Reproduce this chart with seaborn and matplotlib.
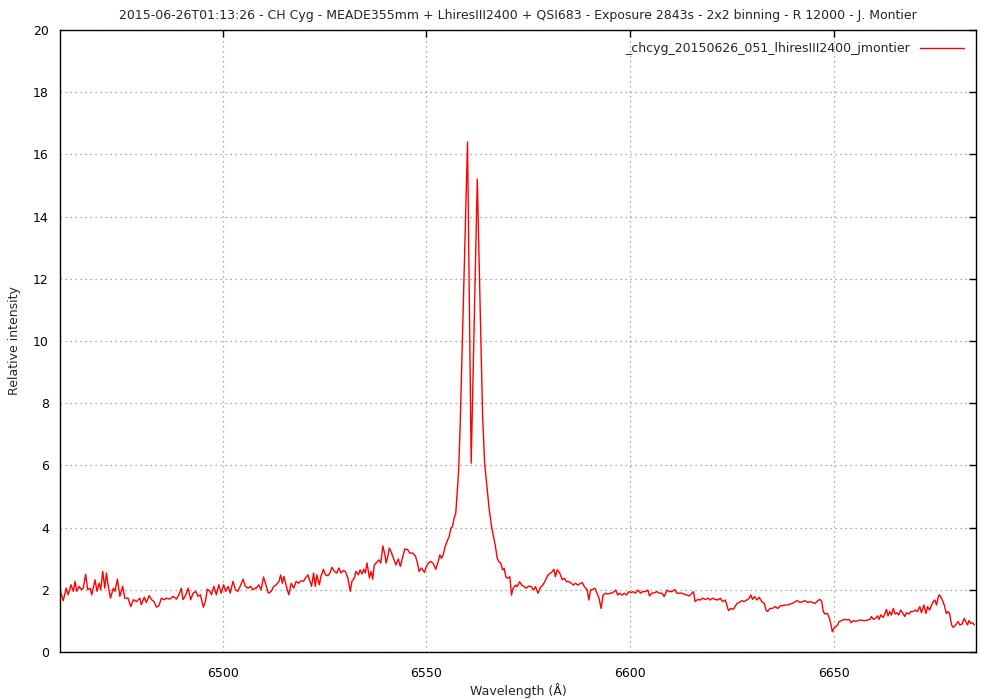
import numpy as np
import pandas as pd
import seaborn as sns
import matplotlib
matplotlib.use("Agg")
import matplotlib.pyplot as plt
from matplotlib.lines import Line2D

# Spectrum, split in chunks along the wavelength axis
wl_blue = [6460.0, 6460.8, 6461.5, 6462.0, 6462.7, 6463.3, 6463.7, 6464.1, 6464.7, 6465.3,
           6465.7, 6466.3, 6466.8, 6467.4, 6467.8, 6468.6, 6469.1, 6469.6, 6470.0, 6470.5,
           6471.0, 6471.4, 6471.8, 6472.4, 6473.1, 6473.5, 6474.1, 6474.7, 6475.4, 6475.9,
           6476.7, 6477.4, 6478.0, 6478.8, 6479.6, 6480.0, 6480.7, 6481.2, 6481.9, 6482.5,
           6483.1, 6483.7, 6484.3, 6484.9, 6485.6, 6486.1, 6487.0, 6487.8, 6488.6, 6489.2,
           6489.8, 6490.2, 6490.9, 6491.5, 6492.1, 6492.7, 6493.3, 6493.9, 6494.5, 6495.2,
           6495.7, 6496.2, 6496.8, 6497.2, 6497.8, 6498.4, 6499.0, 6499.6, 6500.2, 6500.7,
           6501.3, 6501.8, 6502.5, 6503.1, 6503.7, 6504.4, 6505.0, 6505.5, 6506.2, 6506.8,
           6507.4, 6507.8]
flux_blue = [2.00, 1.65, 2.05, 1.84, 2.16, 1.95, 2.27, 1.95, 2.11, 2.00,
             2.05, 2.50, 2.00, 2.05, 1.84, 2.32, 1.95, 2.21, 2.00, 2.59,
             2.05, 2.54, 2.16, 1.73, 2.05, 1.95, 2.34, 1.79, 2.11, 1.73,
             1.73, 1.46, 1.68, 1.62, 1.73, 1.52, 1.76, 1.59, 1.81, 1.68,
             1.62, 1.44, 1.49, 1.73, 1.68, 1.73, 1.70, 1.79, 1.70, 1.84,
             2.05, 1.68, 1.84, 2.05, 1.68, 1.89, 1.95, 1.79, 1.84, 1.44,
             1.62, 2.02, 1.95, 1.84, 2.11, 1.84, 2.16, 1.89, 2.16, 1.95,
             2.11, 1.89, 2.27, 2.00, 1.95, 2.16, 2.34, 2.11, 2.05, 2.11,
             2.00, 2.05]

wl_mid = [6508.2, 6508.8, 6509.4, 6510.0, 6510.7, 6511.2, 6511.9, 6512.5, 6513.1, 6513.8,
          6514.2, 6514.6, 6515.0, 6515.6, 6516.2, 6516.8, 6517.4, 6518.0, 6518.6, 6519.2,
          6519.8, 6520.3, 6520.9, 6521.3, 6521.8, 6522.3, 6522.7, 6523.1, 6523.7, 6524.1,
          6524.7, 6525.2, 6525.8, 6526.3, 6526.8, 6527.4, 6528.0, 6528.5, 6529.0, 6529.6,
          6530.1, 6530.7, 6531.3, 6531.7, 6532.3, 6532.7, 6533.3, 6533.7, 6534.2, 6534.6,
          6535.0, 6535.4, 6536.0, 6536.4, 6536.8, 6537.2, 6537.8, 6538.3, 6538.8, 6539.3,
          6539.8, 6540.1, 6540.5, 6540.9, 6541.3, 6541.9, 6542.5, 6543.1, 6543.6, 6544.2,
          6544.7, 6545.4, 6545.9, 6546.6, 6547.3, 6547.8, 6548.2, 6548.8, 6549.5, 6550.0,
          6550.5, 6551.1, 6551.7, 6552.3, 6552.9]
flux_mid = [2.05, 2.16, 2.00, 2.41, 2.11, 1.89, 1.95, 2.11, 2.16, 2.27,
            2.48, 2.21, 2.43, 2.11, 1.84, 2.21, 2.05, 2.27, 2.21, 2.29,
            2.27, 2.38, 2.48, 2.32, 2.11, 2.54, 2.11, 2.48, 2.16, 2.43,
            2.66, 2.48, 2.45, 2.54, 2.72, 2.59, 2.54, 2.70, 2.54, 2.62,
            2.59, 2.38, 1.95, 2.27, 2.38, 2.59, 2.48, 2.64, 2.51, 2.66,
            2.54, 2.86, 2.38, 2.59, 2.34, 2.80, 2.88, 2.96, 2.86, 3.41,
            3.13, 2.86, 3.07, 3.34, 3.23, 3.02, 2.80, 2.99, 2.75, 3.07,
            3.31, 3.29, 3.18, 3.18, 3.09, 2.86, 2.59, 2.70, 2.56, 2.75,
            2.86, 2.91, 2.84, 2.66, 2.91]

# H-alpha double-peaked emission
wl_halpha = [6553.3, 6553.7, 6554.1, 6554.6, 6555.2, 6555.6, 6556.0, 6556.4, 6556.8, 6557.2,
             6557.5, 6557.9, 6558.3, 6560.1, 6561.0, 6562.5, 6563.8, 6564.3, 6564.8, 6565.4,
             6566.0, 6566.5, 6566.9, 6567.4, 6567.8, 6568.3, 6568.7, 6569.1, 6569.5, 6569.9,
             6570.5, 6570.9, 6571.3, 6571.9, 6572.3, 6572.9, 6573.4, 6574.0, 6574.5, 6575.2,
             6575.8, 6576.3, 6576.8, 6577.4, 6578.1, 6578.6, 6579.3, 6579.9, 6580.4, 6580.9,
             6581.3, 6581.7, 6582.1, 6582.7, 6583.4, 6583.9, 6584.4, 6585.0, 6585.6, 6586.1,
             6586.6, 6587.2, 6587.9, 6588.3, 6588.8, 6589.5, 6589.9, 6590.3, 6590.9, 6591.4,
             6591.9, 6592.4, 6592.9, 6593.4, 6594.0, 6594.6, 6595.2, 6595.8, 6596.5, 6597.0]
flux_halpha = [3.12, 3.01, 3.12, 3.39, 3.60, 3.71, 3.98, 4.03, 4.30, 4.46,
               4.99, 5.80, 7.30, 16.40, 6.07, 15.20, 7.60, 6.07, 5.40, 4.62,
               4.03, 3.71, 3.44, 3.01, 2.90, 2.85, 2.64, 2.69, 2.42, 2.37,
               2.42, 1.83, 2.05, 2.15, 2.10, 2.26, 2.15, 2.10, 2.05, 2.12,
               2.10, 1.99, 2.10, 1.89, 2.10, 2.15, 2.32, 2.48, 2.53, 2.58,
               2.66, 2.42, 2.64, 2.55, 2.32, 2.37, 2.26, 2.26, 2.21, 2.15,
               2.21, 2.15, 2.21, 2.23, 2.10, 1.99, 1.67, 1.99, 2.01, 2.05,
               1.89, 1.73, 1.40, 1.83, 1.89, 1.86, 1.89, 1.91, 1.99, 1.83]

wl_red = [6597.4, 6598.1, 6598.6, 6599.2, 6599.7, 6600.3, 6600.8, 6601.3, 6602.0, 6602.6,
          6603.1, 6603.8, 6604.4, 6604.8, 6605.4, 6606.1, 6606.6, 6607.2, 6607.9, 6608.4,
          6609.1, 6609.7, 6610.3, 6611.0, 6611.5, 6612.1, 6612.8, 6613.3, 6614.0, 6614.6,
          6615.2, 6615.6, 6616.0, 6616.7, 6617.3, 6617.8, 6618.5, 6619.2, 6619.7, 6620.3,
          6620.9, 6621.6, 6622.2, 6622.7, 6623.4, 6623.8, 6624.2, 6624.8, 6625.4, 6625.8,
          6626.3, 6626.8, 6627.5, 6628.0, 6628.7, 6629.3, 6629.7, 6630.1, 6630.6, 6631.2,
          6631.7, 6632.4, 6633.0, 6633.4, 6633.8, 6634.4, 6635.0, 6635.6, 6636.3, 6636.9,
          6637.5, 6638.1, 6638.8, 6639.3, 6639.9, 6640.6, 6641.1]
flux_red = [1.89, 1.83, 1.89, 1.83, 1.94, 1.91, 1.94, 1.89, 1.99, 1.89,
            1.94, 1.94, 1.99, 1.80, 1.89, 1.91, 1.94, 1.89, 1.89, 1.78,
            1.99, 1.94, 1.94, 2.01, 1.89, 1.89, 1.89, 1.86, 1.83, 1.80,
            1.89, 1.94, 1.62, 1.69, 1.67, 1.73, 1.69, 1.73, 1.67, 1.73,
            1.69, 1.67, 1.73, 1.62, 1.67, 1.51, 1.33, 1.40, 1.37, 1.46,
            1.56, 1.59, 1.65, 1.62, 1.67, 1.73, 1.83, 1.69, 1.78, 1.67,
            1.76, 1.62, 1.56, 1.35, 1.30, 1.40, 1.40, 1.46, 1.40, 1.48,
            1.49, 1.51, 1.51, 1.54, 1.56, 1.62, 1.65]

wl_far = [6641.8, 6642.4, 6643.0, 6643.7, 6644.2, 6644.9, 6645.5, 6646.1, 6646.7, 6647.1,
          6647.5, 6647.9, 6648.5, 6649.0, 6649.4, 6649.7, 6650.1, 6650.5, 6651.0, 6651.4,
          6652.0, 6652.6, 6653.2, 6653.8, 6654.3, 6654.9, 6655.4, 6656.1, 6656.7, 6657.3,
          6657.9, 6658.5, 6659.0, 6659.3, 6659.8, 6660.3, 6660.8, 6661.2, 6661.6, 6662.2,
          6662.6, 6663.0, 6663.4, 6663.8, 6664.2, 6664.7, 6665.1, 6665.6, 6666.0, 6666.5,
          6667.1, 6667.5, 6667.9, 6668.5, 6669.0, 6669.6, 6670.1, 6670.6, 6671.2, 6671.6,
          6672.2, 6672.7, 6673.1, 6673.6, 6674.1, 6674.5, 6674.9, 6675.3, 6675.7, 6676.0,
          6676.5, 6676.9, 6677.3, 6677.7, 6678.1, 6678.5, 6679.0, 6679.4, 6680.0, 6680.6,
          6681.0, 6681.6, 6682.1, 6682.5, 6682.9, 6683.3, 6683.7, 6684.1, 6684.6]
flux_far = [1.59, 1.62, 1.65, 1.59, 1.62, 1.59, 1.56, 1.65, 1.69, 1.62,
            1.30, 1.22, 1.24, 1.08, 0.87, 0.65, 0.76, 0.81, 0.87, 0.98,
            1.01, 1.05, 1.03, 1.05, 0.94, 1.01, 0.98, 1.01, 1.03, 1.01,
            1.01, 1.03, 1.05, 1.14, 1.05, 1.08, 1.16, 1.05, 1.19, 1.11,
            1.22, 1.37, 1.16, 1.30, 1.19, 1.40, 1.22, 1.26, 1.19, 1.35,
            1.22, 1.14, 1.26, 1.22, 1.30, 1.30, 1.35, 1.30, 1.46, 1.26,
            1.51, 1.24, 1.46, 1.35, 1.51, 1.62, 1.67, 1.51, 1.76, 1.84,
            1.73, 1.62, 1.46, 1.24, 1.30, 1.24, 0.87, 0.79, 0.87, 0.98,
            0.87, 0.90, 1.08, 0.98, 0.87, 1.01, 0.92, 0.94, 0.87]

series_name = "_chcyg_20150626_051_lhiresIII2400_jmontier"
title = ("2015-06-26T01:13:26 - CH Cyg - MEADE355mm + LhiresIII2400 + QSI683 - "
         "Exposure 2843s - 2x2 binning - R 12000 - J. Montier")
xticks = [6500, 6550, 6600, 6650]
yticks = list(range(0, 21, 2))

df = pd.DataFrame({
    "wavelength": wl_blue + wl_mid + wl_halpha + wl_red + wl_far,
    "intensity": flux_blue + flux_mid + flux_halpha + flux_red + flux_far,
})

sns.set_theme(style="white")
plt.rcParams['font.family'] = ['DejaVu Sans']
plt.rcParams['font.size'] = 9

fig = plt.figure(figsize=(10, 7), dpi=100)
ax = fig.add_axes([0.06, 0.0686, 0.916, 0.8886])

sns.lineplot(data=df, x="wavelength", y="intensity", color="#ff0000", lw=1,
             estimator=None, sort=False, ax=ax)

ax.set_xlim(6460, 6685)
ax.set_ylim(0, 20)
ax.set_xticks(xticks)
ax.set_yticks(yticks)
ax.grid(True, color="#909090", linestyle=(0, (1, 3)), linewidth=0.9)
ax.tick_params(axis="x", direction="in", length=5, width=1, top=True,
               labelsize=9, colors="black", pad=11)
ax.tick_params(axis="y", direction="in", length=5, width=1, right=True,
               labelsize=9, colors="black", pad=8)
for s in ax.spines.values():
    s.set_color("black")
    s.set_linewidth(1)

ax.set_xlabel("Wavelength (Å)", fontsize=9, labelpad=2)
ax.set_ylabel("Relative intensity", fontsize=9, labelpad=9)
ax.set_title(title, fontsize=9, pad=8)

handle = Line2D([], [], color="#ff0000", lw=1)
ax.legend([handle], [series_name], loc="upper right", frameon=False,
          markerfirst=False, handlelength=3.5, fontsize=9,
          borderaxespad=0.6)

fig.savefig("out.png", dpi=100)
